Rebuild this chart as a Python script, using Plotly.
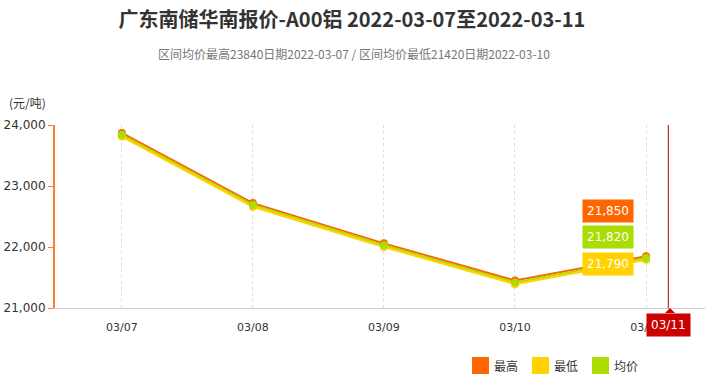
import plotly.graph_objects as go

dates = ["03/07", "03/08", "03/09", "03/10", "03/11"]
high = [23870, 22720, 22060, 21450, 21850]
low = [23810, 22660, 22000, 21390, 21790]
avg = [23840, 22690, 22030, 21420, 21820]
series_names = ["最高", "最低", "均价"]
colors = ["#FF6600", "#FFD200", "#AADD00"]
y_ticks = [21000, 22000, 23000, 24000]

FW, FH = 716, 378
# plot area in window pixels
L, R, T, B = 55, 705, 125, 308
W, H = R - L, B - T
def px(x):
    return (x - L) / W
def py(y):
    return (B - y) / H

xs = list(range(len(dates)))
fig = go.Figure()
order = [("最高", high, colors[0]), ("最低", low, colors[1]), ("均价", avg, colors[2])]
# lines first (high, average, low), then markers with average on top
for name, vals, c in [order[0], order[2], order[1]]:
    fig.add_trace(go.Scatter(x=xs, y=vals, mode="lines", name=name,
                             line=dict(color=c, width=2),
                             showlegend=False, hoverinfo="skip"))
for name, vals, c in [order[0], order[1], order[2]]:
    fig.add_trace(go.Scatter(x=xs, y=vals, mode="markers", name=name,
                             marker=dict(color=c, size=8),
                             showlegend=False, hoverinfo="skip"))

fig.update_layout(
    width=FW, height=FH,
    margin=dict(l=L, r=FW - R, t=T, b=FH - B),
    paper_bgcolor="white", plot_bgcolor="white",
    font=dict(family="DejaVu Sans, Noto Sans CJK SC", size=11, color="#333"),
    showlegend=False,
    title=dict(text="<b>广东南储华南报价-A00铝 2022-03-07至2022-03-11</b>",
               x=352 / FW, xanchor="center", y=1 - 20 / FH, yanchor="middle",
               font=dict(size=20, family="Noto Sans CJK SC", color="#333")),
)
fig.update_xaxes(range=[-0.51, 4.45], tickvals=xs, ticktext=dates,
                 showgrid=True, gridcolor="#DDDDDD", griddash="dot", gridwidth=1,
                 showline=True, linecolor="#CCCCCC", linewidth=1,
                 ticks="outside", ticklen=9, tickcolor="rgba(0,0,0,0)",
                 zeroline=False, automargin=False, tickfont=dict(size=11, color="#333"))
fig.update_yaxes(range=[21000, 24000], tickvals=y_ticks, tickformat=",d",
                 showgrid=False, showline=True, linecolor="#FF7F2A", linewidth=2,
                 ticks="outside", tickcolor="#FF7F2A", ticklen=5, tickwidth=1,
                 zeroline=False, automargin=False, tickfont=dict(size=12, color="#333"))

fig.add_annotation(text="区间均价最高23840日期2022-03-07 / 区间均价最低21420日期2022-03-10",
                   xref="paper", yref="paper", x=px(354), y=py(53), showarrow=False,
                   xanchor="center", yanchor="middle",
                   font=dict(size=12, color="#777", family="Noto Sans CJK SC"))
fig.add_annotation(text="(元/吨)", xref="paper", yref="paper", x=px(7), y=py(102),
                   showarrow=False, xanchor="left", yanchor="middle",
                   font=dict(size=12, color="#333", family="Noto Sans CJK SC"))

# crosshair
fig.add_shape(type="line", xref="x", yref="paper", x0=4.17, x1=4.17, y0=0, y1=1,
              line=dict(color="#B00000", width=1))
fig.add_shape(type="path", xref="paper", yref="paper",
              path=f"M {px(665)} {py(313)} L {px(670)} {py(308)} L {px(675)} {py(313)} Z",
              fillcolor="#CC0000", line=dict(width=0))
fig.add_annotation(text="03/11", xref="x", yref="paper", x=4.17, y=py(325),
                   showarrow=False, bgcolor="#CC0000", font=dict(color="white", size=12),
                   borderpad=4, xanchor="center", yanchor="middle")
# tooltip labels
for val, c, yv in [(high[-1], colors[0], 22590), (avg[-1], colors[2], 22164), (low[-1], colors[1], 21721)]:
    fig.add_annotation(text=f"{val:,}", xref="x", yref="y", x=3.71, y=yv,
                       showarrow=False, bgcolor=c, font=dict(color="white", size=12),
                       borderpad=4, xanchor="center", yanchor="middle")

# legend (manual)
for (name, vals, c), x0 in zip(order, [472, 532, 592]):
    fig.add_shape(type="rect", xref="paper", yref="paper",
                  x0=px(x0), x1=px(x0 + 17), y0=py(374), y1=py(357),
                  fillcolor=c, line=dict(width=0))
    fig.add_annotation(text=name, xref="paper", yref="paper", x=px(x0 + 20), y=py(365.5),
                       showarrow=False, xanchor="left", yanchor="middle",
                       font=dict(size=12, color="#333", family="Noto Sans CJK SC"))

fig.write_html("out.html", config={"displayModeBar": False},
               post_script="document.body.style.margin='0px';document.body.style.overflow='hidden';")
